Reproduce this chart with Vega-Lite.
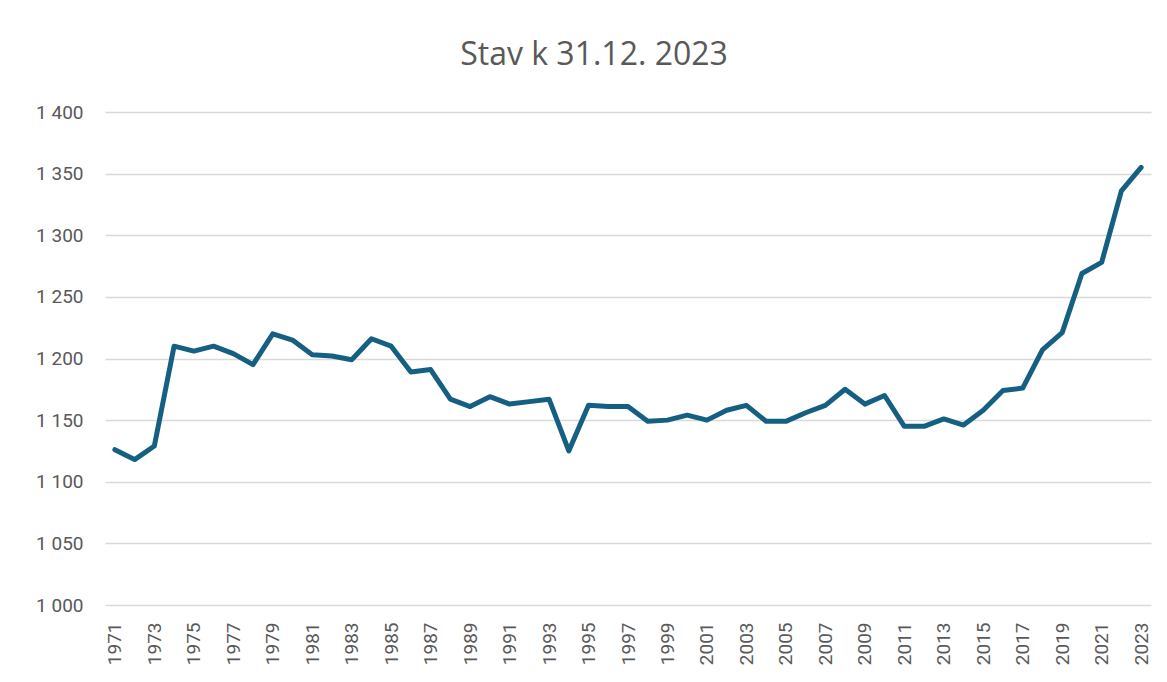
{
  "$schema": "https://vega.github.io/schema/vega-lite/v6.json",
  "width": 1046,
  "height": 493,
  "autosize": "none",
  "padding": {"left": 105, "top": 112, "right": 16, "bottom": 77},
  "background": "white",
  "title": {
    "text": "Stav k 31.12. 2023",
    "font": "Open Sans",
    "fontSize": 32,
    "fontWeight": "normal",
    "color": "#595959",
    "anchor": "middle",
    "baseline": "alphabetic",
    "offset": 6,
    "dx": -34
  },
  "data": {
    "values": [
      {"rok": 1971, "pocet": 1126},
      {"rok": 1972, "pocet": 1118},
      {"rok": 1973, "pocet": 1129},
      {"rok": 1974, "pocet": 1210},
      {"rok": 1975, "pocet": 1206},
      {"rok": 1976, "pocet": 1210},
      {"rok": 1977, "pocet": 1204},
      {"rok": 1978, "pocet": 1195},
      {"rok": 1979, "pocet": 1220},
      {"rok": 1980, "pocet": 1215},
      {"rok": 1981, "pocet": 1203},
      {"rok": 1982, "pocet": 1202},
      {"rok": 1983, "pocet": 1199},
      {"rok": 1984, "pocet": 1216},
      {"rok": 1985, "pocet": 1210},
      {"rok": 1986, "pocet": 1189},
      {"rok": 1987, "pocet": 1191},
      {"rok": 1988, "pocet": 1167},
      {"rok": 1989, "pocet": 1161},
      {"rok": 1990, "pocet": 1169},
      {"rok": 1991, "pocet": 1163},
      {"rok": 1992, "pocet": 1165},
      {"rok": 1993, "pocet": 1167},
      {"rok": 1994, "pocet": 1125},
      {"rok": 1995, "pocet": 1162},
      {"rok": 1996, "pocet": 1161},
      {"rok": 1997, "pocet": 1161},
      {"rok": 1998, "pocet": 1149},
      {"rok": 1999, "pocet": 1150},
      {"rok": 2000, "pocet": 1154},
      {"rok": 2001, "pocet": 1150},
      {"rok": 2002, "pocet": 1158},
      {"rok": 2003, "pocet": 1162},
      {"rok": 2004, "pocet": 1149},
      {"rok": 2005, "pocet": 1149},
      {"rok": 2006, "pocet": 1156},
      {"rok": 2007, "pocet": 1162},
      {"rok": 2008, "pocet": 1175},
      {"rok": 2009, "pocet": 1163},
      {"rok": 2010, "pocet": 1170},
      {"rok": 2011, "pocet": 1145},
      {"rok": 2012, "pocet": 1145},
      {"rok": 2013, "pocet": 1151},
      {"rok": 2014, "pocet": 1146},
      {"rok": 2015, "pocet": 1158},
      {"rok": 2016, "pocet": 1174},
      {"rok": 2017, "pocet": 1176},
      {"rok": 2018, "pocet": 1207},
      {"rok": 2019, "pocet": 1221},
      {"rok": 2020, "pocet": 1269},
      {"rok": 2021, "pocet": 1278},
      {"rok": 2022, "pocet": 1336},
      {"rok": 2023, "pocet": 1355}
    ]
  },
  "mark": {"type": "line", "color": "#156082", "strokeWidth": 5, "strokeJoin": "round", "strokeCap": "round"},
  "encoding": {
    "x": {
      "field": "rok",
      "type": "ordinal",
      "scale": {"type": "point", "padding": 0.5},
      "axis": {
        "title": null,
        "values": [1971, 1973, 1975, 1977, 1979, 1981, 1983, 1985, 1987, 1989, 1991, 1993, 1995, 1997, 1999, 2001, 2003, 2005, 2007, 2009, 2011, 2013, 2015, 2017, 2019, 2021, 2023],
        "labelAngle": -90,
        "labelAlign": "right",
        "labelBaseline": "middle",
        "labelFont": "Roboto",
        "labelFontSize": 19,
        "labelColor": "#595959",
        "labelPadding": 17,
        "labelOverlap": false,
        "domain": false,
        "ticks": false,
        "grid": false
      }
    },
    "y": {
      "field": "pocet",
      "type": "quantitative",
      "scale": {"domain": [1000, 1400], "nice": false, "zero": false},
      "axis": {
        "title": null,
        "values": [1000, 1050, 1100, 1150, 1200, 1250, 1300, 1350, 1400],
        "labelExpr": "replace(format(datum.value, ','), ',', ' ')",
        "labelFont": "Roboto",
        "labelFontSize": 19,
        "labelColor": "#595959",
        "labelPadding": 22,
        "domain": false,
        "ticks": false,
        "grid": true,
        "gridColor": "#d9d9d9",
        "gridWidth": 1.5
      }
    }
  },
  "config": {
    "view": {"stroke": null}
  }
}
